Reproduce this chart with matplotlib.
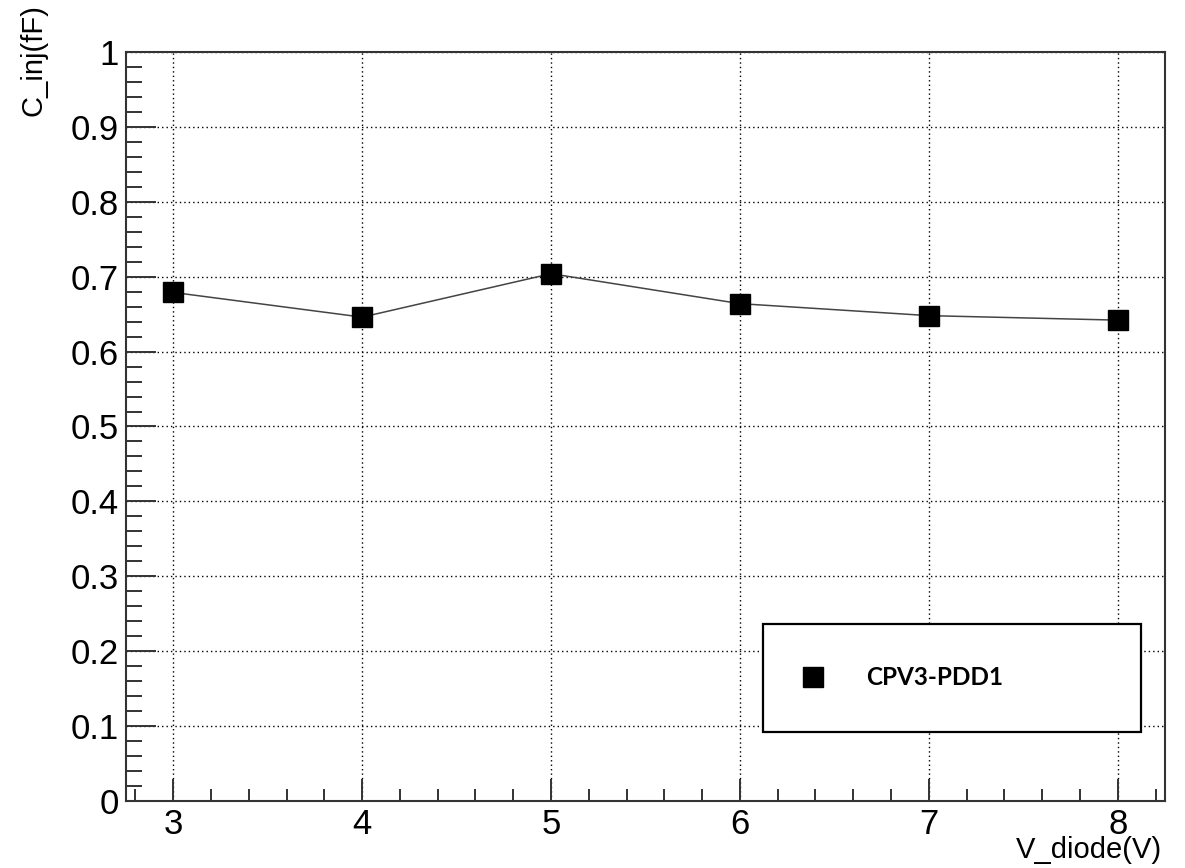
import numpy as np
import matplotlib.pyplot as plt
from matplotlib.ticker import MultipleLocator, FuncFormatter

# injection capacitance vs diode voltage
v_diode = [3, 4, 5, 6, 7, 8]
c_inj = [0.679, 0.646, 0.704, 0.664, 0.648, 0.642]
series_name = 'CPV3-PDD1'

plt.rcParams['font.family'] = ['Liberation Sans', 'DejaVu Sans']

fig = plt.figure(figsize=(11.85, 8.68), dpi=100)
ax = fig.add_axes([0.1063, 0.0772, 0.8768, 0.8629])

ax.plot(v_diode, c_inj, color='#444444', lw=1.1, marker='s', ms=14.5,
        mfc='black', mec='black', label=series_name, zorder=3)

ax.set_xlim(2.75, 8.25)
ax.set_ylim(0, 1)
ax.xaxis.set_major_locator(MultipleLocator(1))
ax.xaxis.set_minor_locator(MultipleLocator(0.2))
ax.yaxis.set_major_locator(MultipleLocator(0.1))
ax.yaxis.set_minor_locator(MultipleLocator(0.02))
ax.yaxis.set_major_formatter(FuncFormatter(lambda v, p: '%g' % round(v, 2)))

ax.grid(True, which='major', ls=(0, (1, 2.2)), color='black', lw=1.0)
ax.tick_params(which='both', direction='in', top=False, right=False,
               color='#333333', width=1.4, labelsize=25)
ax.tick_params(axis='y', which='major', length=21.5, pad=5)
ax.tick_params(axis='y', which='minor', length=11.5)
ax.tick_params(axis='x', which='major', length=16, pad=5)
ax.tick_params(axis='x', which='minor', length=8.5)
for s in ax.spines.values():
    s.set_linewidth(1.5)
    s.set_color('#333333')

fig.text(0.981, 0.005, 'V_diode(V)', fontsize=21, ha='right', va='bottom')
fig.text(0.028, 0.995, 'C_inj(fF)', fontsize=21, ha='center', va='top',
         rotation=90)

leg = ax.legend(loc='lower left', bbox_to_anchor=(0.6439, 0.1567, 0.319, 0.1267),
                bbox_transform=fig.transFigure, mode='expand', borderaxespad=0,
                fancybox=False, edgecolor='black', framealpha=1, borderpad=1.75,
                handlelength=0.6, handletextpad=1.9,
                prop={'family': ['Lato', 'DejaVu Sans'], 'weight': 'bold', 'size': 17.5})
leg.get_frame().set_linewidth(1.6)
leg.legend_handles[0].set_linestyle('none')

fig.savefig('out.png', dpi=100)
